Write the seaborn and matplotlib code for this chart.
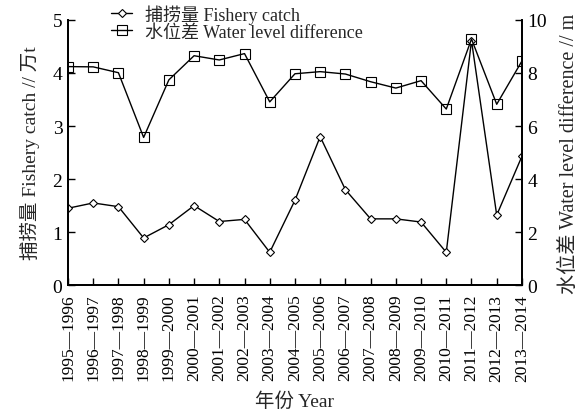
import matplotlib
matplotlib.use("Agg")
import matplotlib.pyplot as plt
import seaborn as sns
import pandas as pd

years = ["1995—1996", "1996—1997", "1997—1998", "1998—1999", "1999—2000",
         "2000—2001", "2001—2002", "2002—2003", "2003—2004", "2004—2005",
         "2005—2006", "2006—2007", "2007—2008", "2008—2009", "2009—2010",
         "2010—2011", "2011—2012", "2012—2013", "2013—2014"]
fishery_catch = [1.45, 1.55, 1.48, 0.89, 1.14, 1.50, 1.20, 1.24, 0.62, 1.60,
                 2.80, 1.80, 1.25, 1.25, 1.19, 0.62, 4.61, 1.32, 2.43]
water_level = [8.24, 8.23, 8.01, 5.57, 7.74, 8.65, 8.49, 8.73, 6.91, 7.97,
               8.05, 7.96, 7.67, 7.43, 7.71, 6.64, 9.28, 6.82, 8.45]

sns.set_style("ticks")
plt.rcParams['font.family'] = ['Liberation Serif', 'Noto Sans CJK SC']
plt.rcParams['axes.unicode_minus'] = False

df = pd.DataFrame({"idx": range(len(years)), "catch": fishery_catch, "water": water_level})

fig = plt.figure(figsize=(5.82, 4.10), dpi=100)
ax = fig.add_axes([0.1168, 0.302, 0.780, 0.647])
ax2 = ax.twinx()

sns.lineplot(data=df, x="idx", y="catch", ax=ax, color="black", lw=1.0,
             marker="D", markersize=4.3, markerfacecolor="white",
             markeredgecolor="black", markeredgewidth=0.8,
             label="捕捞量 Fishery catch", legend=False)
sns.lineplot(data=df, x="idx", y="water", ax=ax2, color="black", lw=1.0,
             marker="s", markersize=6.5, markerfacecolor="none",
             markeredgecolor="black", markeredgewidth=0.8,
             label="水位差 Water level difference", legend=False)

ax.set_xlim(0, len(years) - 1)
ax.set_ylim(0, 5)
ax2.set_ylim(0, 10)
ax.set_xticks(range(len(years)))
ax.set_xticklabels(years, rotation=90)
ax.set_yticks([0, 1, 2, 3, 4, 5])
ax2.set_yticks([0, 2, 4, 6, 8, 10])
for a in (ax, ax2):
    a.tick_params(direction="in", length=5, width=1, labelsize=14, colors="black", pad=4)
    for s in a.spines.values():
        s.set_linewidth(1.3)
        s.set_color("black")
    a.spines['top'].set_visible(False)
ax.tick_params(axis='x', labelsize=12.5, pad=6)

ax.set_xlabel("年份 Year", fontsize=14, labelpad=8)
ax.set_ylabel("捕捞量 Fishery catch // 万t", fontsize=14, labelpad=9)
ax2.set_ylabel("水位差 Water level difference // m", fontsize=14.5, labelpad=9)

h1, l1 = ax.get_legend_handles_labels()
h2, l2 = ax2.get_legend_handles_labels()
fig.legend(h1 + h2, l1 + l2, loc="upper left", bbox_to_anchor=(0.178, 1.005),
           frameon=False, fontsize=13, handlelength=1.2, labelspacing=0.0,
           handletextpad=0.7, borderaxespad=0)

fig.savefig("out.png", dpi=100)
